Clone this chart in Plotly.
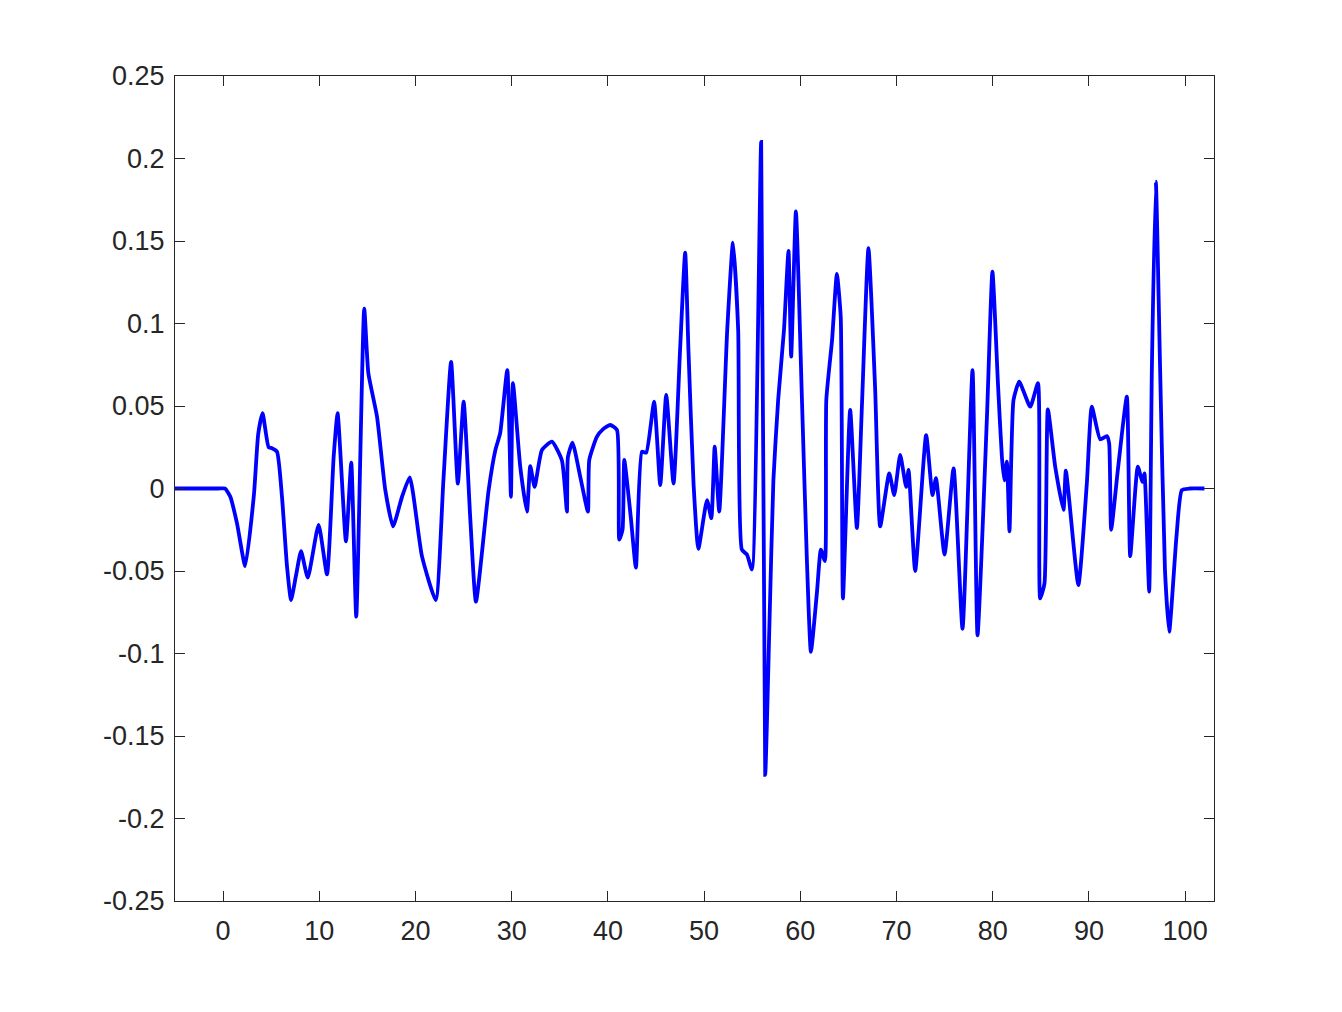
import plotly.graph_objects as go

# Signal (time, amplitude)
t_values = [
    -5, -0.5, 0.2, 0.75, 1.44, 2.3, 3.2, 3.65, 4.1, 4.73, 5.08, 5.6, 6.12, 6.64, 7.06, 7.57,
    8.1, 8.8, 9.93, 10.8, 11.49, 11.9, 12.77, 13.32, 13.84, 14.67, 15.1, 16.0, 16.86, 17.66,
    18.6, 19.4, 20.67, 22.1, 22.9, 23.7, 24.4, 25.0, 25.7, 26.28, 27.6, 28.3, 28.8, 29.54,
    29.92, 30.13, 30.89, 31.58, 31.93, 32.38, 33.14, 34.18, 35.22, 35.74, 35.84, 36.32, 37.12,
    37.92, 38.06, 38.86, 39.5, 40.24, 40.94, 41.18, 41.52, 41.7, 42.37, 42.91, 43.53, 43.98,
    44.8, 45.44, 46.06, 46.82, 47.5, 48.03, 48.37, 48.9, 49.4, 50.3, 50.75, 51.1, 51.57,
    52.4, 53.0, 53.54, 53.92, 54.45, 54.97, 55.93, 56.35, 56.8, 57.2, 57.7, 58.3, 58.77,
    59.05, 59.54, 60.16, 60.68, 61.1, 61.72, 62.14, 62.56, 62.7, 63.3, 63.8, 64.2, 64.43,
    65.18, 65.88, 66.4, 67.08, 67.78, 68.3, 69.24, 69.76, 70.38, 71.0, 71.25, 71.94, 73.08,
    73.74, 74.1, 74.99, 75.93, 76.86, 77.9, 78.42, 79.4, 79.97, 80.54, 80.95, 81.2, 81.47,
    81.74, 82.16, 82.75, 83.9, 84.7, 84.93, 85.38, 85.73, 86.5, 87.35, 87.6, 88.9, 89.78,
    90.3, 91.17, 91.86, 92.1, 92.31, 93.0, 93.94, 94.29, 95.08, 95.57, 95.77, 96.26, 96.54,
    96.95, 97.4, 97.9, 98.34, 99.1, 99.66, 100.5, 102,
]
amplitude = [
    0, 0, 0, -0.005, -0.021, -0.047, -0.004, 0.033, 0.0456, 0.025, 0.0244, 0.0223, -0.005, -0.047, -0.0676, -0.053,
    -0.038, -0.054, -0.022, -0.052, 0.019, 0.0456, -0.032, 0.0156, -0.0777, 0.109, 0.0698, 0.0435, -0.001, -0.023,
    -0.005, 0.0068, -0.041, -0.0676, 0.005, 0.0768, 0.003, 0.0526, -0.019, -0.0686, -0.001, 0.0233, 0.0335, 0.0718,
    -0.005, 0.0638, 0.013, -0.014, 0.0136, 0.001, 0.0233, 0.0284, 0.017, -0.014, 0.019, 0.0278, 0.0072,
    -0.014, 0.0173, 0.0314, 0.036, 0.0385, 0.0355, -0.031, -0.025, 0.0173, -0.017, -0.048, 0.0223, 0.0217,
    0.0526, 0.002, 0.0567, 0.003, 0.084, 0.143, 0.084, 0.003, -0.0365, -0.007, -0.018, 0.0253, -0.014,
    0.096, 0.149, 0.096, -0.037, -0.040, -0.049, 0.210, -0.1736, -0.08, 0.005, 0.054, 0.096, 0.144,
    0.080, 0.168, 0.0556, -0.043, -0.099, -0.0635, -0.037, -0.044, 0.0536, 0.09, 0.130, 0.104, -0.0666,
    0.0476, -0.024, 0.0496, 0.1456, 0.06, -0.023, 0.0092, -0.004, 0.0203, 0.001, 0.0112, -0.050, 0.0324,
    -0.004, 0.0062, -0.040, 0.0122, -0.085, 0.0718, -0.089, 0.0435, 0.1314, 0.0638, 0.0193, 0.005, 0.0162,
    -0.026, 0.0536, 0.0647, 0.0496, 0.0638, -0.0666, -0.0575, 0.048, 0.013, -0.013, 0.0108, -0.0585, 0.003,
    0.0496, 0.0298, 0.0318, 0.0274, -0.025, 0.011, 0.0556, -0.041, 0.0132, 0.004, 0.0092, -0.0625, 0.0718,
    0.186, 0.0718, -0.049, -0.0868, -0.029, -0.001, 0, 0,
]

x_ticks = [0, 10, 20, 30, 40, 50, 60, 70, 80, 90, 100]
y_ticks = [-0.25, -0.2, -0.15, -0.1, -0.05, 0, 0.05, 0.1, 0.15, 0.2, 0.25]
y_tick_labels = ["-0.25", "-0.2", "-0.15", "-0.1", "-0.05", "0", "0.05", "0.1", "0.15", "0.2", "0.25"]

fig = go.Figure()
fig.add_trace(go.Scatter(
    x=t_values, y=amplitude, mode="lines",
    line=dict(color="#0000FF", width=3.8, shape="spline", smoothing=0.5),
    showlegend=False, hoverinfo="x+y",
))

axis_common = dict(
    showgrid=False, zeroline=False, showline=True, linecolor="#262626", linewidth=1,
    mirror="ticks", ticks="inside", ticklen=10, tickwidth=1, tickcolor="#262626",
    tickfont=dict(family="Liberation Sans, Arial, Helvetica, sans-serif", size=27, color="#262626"),
)

fig.update_xaxes(range=[-5, 103], tickvals=x_ticks, ticktext=[str(v) for v in x_ticks],
                 ticklabelstandoff=6, **axis_common)
fig.update_yaxes(range=[-0.25, 0.25], tickvals=y_ticks, ticktext=y_tick_labels,
                 ticklabelstandoff=4, **axis_common)

fig.update_layout(
    width=1342, height=1012,
    margin=dict(l=167, r=136, t=68, b=119),
    paper_bgcolor="white", plot_bgcolor="white",
)

fig.write_html("out.html")
